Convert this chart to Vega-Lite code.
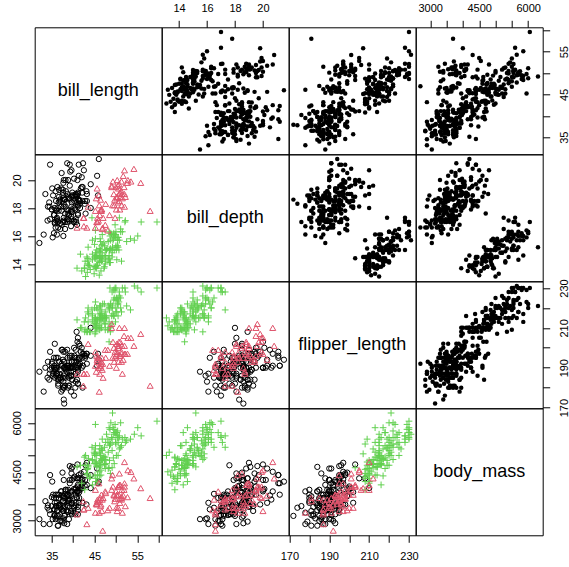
{
"$schema":"https://vega.github.io/schema/vega-lite/v6.json",
"padding":{"left":10.7,"top":1.3,"right":0,"bottom":0},
"background":"white",
"datasets":{"p":[
{"sp":"A","bl":39.1,"bd":18.7,"fl":181,"bm":3750},{"sp":"A","bl":39.5,"bd":17.4,"fl":186,"bm":3800},{"sp":"A","bl":40.3,"bd":18.0,"fl":195,"bm":3250},{"sp":"A","bl":36.7,"bd":19.3,"fl":193,"bm":3450},{"sp":"A","bl":39.3,"bd":20.6,"fl":190,"bm":3650},{"sp":"A","bl":38.9,"bd":17.8,"fl":181,"bm":3625},{"sp":"A","bl":39.2,"bd":19.6,"fl":195,"bm":4675},{"sp":"A","bl":34.1,"bd":18.1,"fl":193,"bm":3475},{"sp":"A","bl":42.0,"bd":20.2,"fl":190,"bm":4250},{"sp":"A","bl":37.8,"bd":17.1,"fl":186,"bm":3300},
{"sp":"A","bl":37.8,"bd":17.3,"fl":180,"bm":3700},{"sp":"A","bl":41.1,"bd":17.6,"fl":182,"bm":3200},{"sp":"A","bl":38.6,"bd":21.2,"fl":191,"bm":3800},{"sp":"A","bl":34.6,"bd":21.1,"fl":198,"bm":4400},{"sp":"A","bl":36.6,"bd":17.8,"fl":185,"bm":3700},{"sp":"A","bl":38.7,"bd":19.0,"fl":195,"bm":3450},{"sp":"A","bl":42.5,"bd":20.7,"fl":197,"bm":4500},{"sp":"A","bl":34.4,"bd":18.4,"fl":184,"bm":3325},{"sp":"A","bl":46.0,"bd":21.5,"fl":194,"bm":4200},{"sp":"A","bl":37.8,"bd":18.3,"fl":174,"bm":3400},
{"sp":"A","bl":37.7,"bd":18.7,"fl":180,"bm":3600},{"sp":"A","bl":35.9,"bd":19.2,"fl":189,"bm":3800},{"sp":"A","bl":38.2,"bd":18.1,"fl":185,"bm":3950},{"sp":"A","bl":38.8,"bd":17.2,"fl":180,"bm":3800},{"sp":"A","bl":35.3,"bd":18.9,"fl":187,"bm":3800},{"sp":"A","bl":40.6,"bd":18.6,"fl":183,"bm":3550},{"sp":"A","bl":40.5,"bd":17.9,"fl":187,"bm":3200},{"sp":"A","bl":37.9,"bd":18.6,"fl":172,"bm":3150},{"sp":"A","bl":40.5,"bd":18.9,"fl":180,"bm":3950},{"sp":"A","bl":39.5,"bd":16.7,"fl":178,"bm":3250},
{"sp":"A","bl":37.2,"bd":18.1,"fl":178,"bm":3900},{"sp":"A","bl":39.5,"bd":17.8,"fl":188,"bm":3300},{"sp":"A","bl":40.9,"bd":18.9,"fl":184,"bm":3900},{"sp":"A","bl":36.4,"bd":17.0,"fl":195,"bm":3325},{"sp":"A","bl":39.2,"bd":21.1,"fl":196,"bm":4150},{"sp":"A","bl":38.8,"bd":20.0,"fl":190,"bm":3950},{"sp":"A","bl":42.2,"bd":18.5,"fl":180,"bm":3550},{"sp":"A","bl":37.6,"bd":19.3,"fl":181,"bm":3300},{"sp":"A","bl":39.8,"bd":19.1,"fl":184,"bm":4650},{"sp":"A","bl":36.5,"bd":18.0,"fl":182,"bm":3150},
{"sp":"A","bl":40.8,"bd":18.4,"fl":195,"bm":3900},{"sp":"A","bl":36.0,"bd":18.5,"fl":186,"bm":3100},{"sp":"A","bl":44.1,"bd":19.7,"fl":196,"bm":4400},{"sp":"A","bl":37.0,"bd":16.9,"fl":185,"bm":3000},{"sp":"A","bl":39.6,"bd":18.8,"fl":190,"bm":4600},{"sp":"A","bl":41.1,"bd":19.0,"fl":182,"bm":3425},{"sp":"A","bl":37.5,"bd":18.9,"fl":179,"bm":2975},{"sp":"A","bl":36.0,"bd":17.9,"fl":190,"bm":3450},{"sp":"A","bl":42.3,"bd":21.2,"fl":191,"bm":4150},{"sp":"A","bl":39.6,"bd":17.7,"fl":186,"bm":3500},
{"sp":"A","bl":40.1,"bd":18.9,"fl":188,"bm":4300},{"sp":"A","bl":35.0,"bd":17.9,"fl":190,"bm":3450},{"sp":"A","bl":42.0,"bd":19.5,"fl":200,"bm":4050},{"sp":"A","bl":34.5,"bd":18.1,"fl":187,"bm":2900},{"sp":"A","bl":41.4,"bd":18.6,"fl":191,"bm":3700},{"sp":"A","bl":39.0,"bd":17.5,"fl":186,"bm":3550},{"sp":"A","bl":40.6,"bd":18.8,"fl":193,"bm":3800},{"sp":"A","bl":36.5,"bd":16.6,"fl":181,"bm":2850},{"sp":"A","bl":37.6,"bd":19.1,"fl":194,"bm":3750},{"sp":"A","bl":35.7,"bd":16.9,"fl":185,"bm":3150},
{"sp":"A","bl":41.3,"bd":21.1,"fl":195,"bm":4400},{"sp":"A","bl":37.6,"bd":17.0,"fl":185,"bm":3600},{"sp":"A","bl":41.1,"bd":18.2,"fl":192,"bm":4050},{"sp":"A","bl":36.4,"bd":17.1,"fl":184,"bm":2850},{"sp":"A","bl":41.6,"bd":18.0,"fl":192,"bm":3950},{"sp":"A","bl":35.5,"bd":16.2,"fl":195,"bm":3350},{"sp":"A","bl":41.1,"bd":19.1,"fl":188,"bm":4100},{"sp":"A","bl":35.9,"bd":16.6,"fl":190,"bm":3050},{"sp":"A","bl":41.8,"bd":19.4,"fl":198,"bm":4450},{"sp":"A","bl":33.5,"bd":19.0,"fl":190,"bm":3600},
{"sp":"A","bl":39.7,"bd":18.4,"fl":190,"bm":3900},{"sp":"A","bl":39.6,"bd":17.2,"fl":196,"bm":3550},{"sp":"A","bl":45.8,"bd":18.9,"fl":197,"bm":4150},{"sp":"A","bl":35.5,"bd":17.5,"fl":190,"bm":3700},{"sp":"A","bl":42.8,"bd":18.5,"fl":195,"bm":4250},{"sp":"A","bl":40.9,"bd":16.8,"fl":191,"bm":3700},{"sp":"A","bl":37.2,"bd":19.4,"fl":184,"bm":3900},{"sp":"A","bl":36.2,"bd":16.1,"fl":187,"bm":3550},{"sp":"A","bl":42.1,"bd":19.1,"fl":195,"bm":4000},{"sp":"A","bl":34.6,"bd":17.2,"fl":189,"bm":3200},
{"sp":"A","bl":42.9,"bd":17.6,"fl":196,"bm":4700},{"sp":"A","bl":36.7,"bd":18.8,"fl":187,"bm":3800},{"sp":"A","bl":35.1,"bd":19.4,"fl":193,"bm":4200},{"sp":"A","bl":37.3,"bd":17.8,"fl":191,"bm":3350},{"sp":"A","bl":41.3,"bd":20.3,"fl":194,"bm":3550},{"sp":"A","bl":36.3,"bd":19.5,"fl":190,"bm":3800},{"sp":"A","bl":36.9,"bd":18.6,"fl":189,"bm":3500},{"sp":"A","bl":38.3,"bd":19.2,"fl":189,"bm":3950},{"sp":"A","bl":38.9,"bd":18.8,"fl":190,"bm":3600},{"sp":"A","bl":35.7,"bd":18.0,"fl":202,"bm":3550},
{"sp":"A","bl":41.1,"bd":18.1,"fl":205,"bm":4300},{"sp":"A","bl":34.0,"bd":17.1,"fl":185,"bm":3400},{"sp":"A","bl":39.6,"bd":18.1,"fl":186,"bm":4450},{"sp":"A","bl":36.2,"bd":17.3,"fl":187,"bm":3300},{"sp":"A","bl":40.8,"bd":18.9,"fl":208,"bm":4300},{"sp":"A","bl":38.1,"bd":18.6,"fl":190,"bm":3700},{"sp":"A","bl":40.3,"bd":18.5,"fl":196,"bm":4350},{"sp":"A","bl":33.1,"bd":16.1,"fl":178,"bm":2900},{"sp":"A","bl":43.2,"bd":18.5,"fl":192,"bm":4100},{"sp":"A","bl":35.0,"bd":17.9,"fl":192,"bm":3725},
{"sp":"A","bl":41.0,"bd":20.0,"fl":203,"bm":4725},{"sp":"A","bl":37.7,"bd":16.0,"fl":183,"bm":3075},{"sp":"A","bl":37.8,"bd":20.0,"fl":190,"bm":4250},{"sp":"A","bl":37.9,"bd":18.6,"fl":193,"bm":2925},{"sp":"A","bl":39.7,"bd":18.9,"fl":184,"bm":3550},{"sp":"A","bl":38.6,"bd":17.2,"fl":199,"bm":3750},{"sp":"A","bl":38.2,"bd":20.0,"fl":190,"bm":3900},{"sp":"A","bl":38.1,"bd":17.0,"fl":181,"bm":3175},{"sp":"A","bl":43.2,"bd":19.0,"fl":197,"bm":4775},{"sp":"A","bl":38.1,"bd":16.5,"fl":198,"bm":3825},
{"sp":"A","bl":45.6,"bd":20.3,"fl":191,"bm":4600},{"sp":"A","bl":39.7,"bd":17.7,"fl":193,"bm":3200},{"sp":"A","bl":42.2,"bd":19.5,"fl":197,"bm":4275},{"sp":"A","bl":39.6,"bd":20.7,"fl":191,"bm":3900},{"sp":"A","bl":42.7,"bd":18.3,"fl":196,"bm":4075},{"sp":"A","bl":38.6,"bd":17.0,"fl":188,"bm":2900},{"sp":"A","bl":37.3,"bd":20.5,"fl":199,"bm":3775},{"sp":"A","bl":35.7,"bd":17.0,"fl":189,"bm":3350},{"sp":"A","bl":41.1,"bd":18.6,"fl":189,"bm":3325},{"sp":"A","bl":36.2,"bd":17.2,"fl":187,"bm":3150},
{"sp":"A","bl":37.7,"bd":19.8,"fl":198,"bm":3500},{"sp":"A","bl":40.2,"bd":17.0,"fl":176,"bm":3450},{"sp":"A","bl":41.4,"bd":18.5,"fl":202,"bm":3875},{"sp":"A","bl":35.2,"bd":15.9,"fl":186,"bm":3050},{"sp":"A","bl":40.6,"bd":19.0,"fl":199,"bm":4000},{"sp":"A","bl":38.8,"bd":17.6,"fl":191,"bm":3275},{"sp":"A","bl":41.5,"bd":18.3,"fl":195,"bm":4300},{"sp":"A","bl":39.0,"bd":17.1,"fl":191,"bm":3050},{"sp":"A","bl":44.1,"bd":18.0,"fl":210,"bm":4000},{"sp":"A","bl":38.5,"bd":17.9,"fl":190,"bm":3325},
{"sp":"A","bl":43.1,"bd":19.2,"fl":197,"bm":3500},{"sp":"A","bl":36.8,"bd":18.5,"fl":193,"bm":3500},{"sp":"A","bl":37.5,"bd":18.5,"fl":199,"bm":4475},{"sp":"A","bl":38.1,"bd":17.6,"fl":187,"bm":3425},{"sp":"A","bl":41.1,"bd":17.5,"fl":190,"bm":3900},{"sp":"A","bl":35.6,"bd":17.5,"fl":191,"bm":3175},{"sp":"A","bl":40.2,"bd":20.1,"fl":200,"bm":3975},{"sp":"A","bl":37.0,"bd":16.5,"fl":185,"bm":3400},{"sp":"A","bl":39.7,"bd":17.9,"fl":193,"bm":4250},{"sp":"A","bl":40.2,"bd":17.1,"fl":193,"bm":3400},
{"sp":"A","bl":40.6,"bd":17.2,"fl":187,"bm":3475},{"sp":"A","bl":32.1,"bd":15.5,"fl":188,"bm":3050},{"sp":"A","bl":40.7,"bd":17.0,"fl":190,"bm":3725},{"sp":"A","bl":37.3,"bd":16.8,"fl":192,"bm":3000},{"sp":"A","bl":39.0,"bd":18.7,"fl":185,"bm":3650},{"sp":"A","bl":39.2,"bd":18.6,"fl":190,"bm":4250},{"sp":"A","bl":36.6,"bd":18.4,"fl":184,"bm":3475},{"sp":"A","bl":36.0,"bd":17.8,"fl":195,"bm":3450},{"sp":"A","bl":37.8,"bd":18.1,"fl":193,"bm":3750},{"sp":"A","bl":36.0,"bd":17.1,"fl":187,"bm":3700},
{"sp":"A","bl":41.5,"bd":18.5,"fl":201,"bm":4000},
{"sp":"G","bl":46.1,"bd":13.2,"fl":211,"bm":4500},{"sp":"G","bl":50.0,"bd":16.3,"fl":230,"bm":5700},{"sp":"G","bl":48.7,"bd":14.1,"fl":210,"bm":4450},{"sp":"G","bl":50.0,"bd":15.2,"fl":218,"bm":5700},{"sp":"G","bl":47.6,"bd":14.5,"fl":215,"bm":5400},{"sp":"G","bl":46.5,"bd":13.5,"fl":210,"bm":4550},{"sp":"G","bl":45.4,"bd":14.6,"fl":211,"bm":4800},{"sp":"G","bl":46.7,"bd":15.3,"fl":219,"bm":5200},{"sp":"G","bl":43.3,"bd":13.4,"fl":209,"bm":4400},{"sp":"G","bl":46.8,"bd":15.4,"fl":215,"bm":5150},
{"sp":"G","bl":40.9,"bd":13.7,"fl":214,"bm":4650},{"sp":"G","bl":49.0,"bd":16.1,"fl":216,"bm":5550},{"sp":"G","bl":45.5,"bd":13.7,"fl":214,"bm":4650},{"sp":"G","bl":48.4,"bd":14.6,"fl":213,"bm":5850},{"sp":"G","bl":45.8,"bd":14.6,"fl":210,"bm":4200},{"sp":"G","bl":49.3,"bd":15.7,"fl":217,"bm":5850},{"sp":"G","bl":42.0,"bd":13.5,"fl":210,"bm":4150},{"sp":"G","bl":49.2,"bd":15.2,"fl":221,"bm":6300},{"sp":"G","bl":46.2,"bd":14.5,"fl":209,"bm":4800},{"sp":"G","bl":48.7,"bd":15.1,"fl":222,"bm":5350},
{"sp":"G","bl":50.2,"bd":14.3,"fl":218,"bm":5700},{"sp":"G","bl":45.1,"bd":14.5,"fl":215,"bm":5000},{"sp":"G","bl":46.5,"bd":14.5,"fl":213,"bm":4400},{"sp":"G","bl":46.3,"bd":15.8,"fl":215,"bm":5050},{"sp":"G","bl":42.9,"bd":13.1,"fl":215,"bm":5000},{"sp":"G","bl":46.1,"bd":15.1,"fl":215,"bm":5100},{"sp":"G","bl":44.5,"bd":14.3,"fl":216,"bm":4100},{"sp":"G","bl":47.8,"bd":15.0,"fl":215,"bm":5650},{"sp":"G","bl":48.2,"bd":14.3,"fl":210,"bm":4600},{"sp":"G","bl":50.0,"bd":15.3,"fl":220,"bm":5550},
{"sp":"G","bl":47.3,"bd":15.3,"fl":222,"bm":5250},{"sp":"G","bl":42.8,"bd":14.2,"fl":209,"bm":4700},{"sp":"G","bl":45.1,"bd":14.5,"fl":207,"bm":5050},{"sp":"G","bl":59.6,"bd":17.0,"fl":230,"bm":6050},{"sp":"G","bl":49.1,"bd":14.8,"fl":220,"bm":5150},{"sp":"G","bl":48.4,"bd":16.3,"fl":220,"bm":5400},{"sp":"G","bl":42.6,"bd":13.7,"fl":213,"bm":4950},{"sp":"G","bl":44.4,"bd":17.3,"fl":219,"bm":5250},{"sp":"G","bl":44.0,"bd":13.6,"fl":208,"bm":4350},{"sp":"G","bl":48.7,"bd":15.7,"fl":208,"bm":5350},
{"sp":"G","bl":42.7,"bd":13.7,"fl":208,"bm":3950},{"sp":"G","bl":49.6,"bd":16.0,"fl":225,"bm":5700},{"sp":"G","bl":45.3,"bd":13.7,"fl":210,"bm":4300},{"sp":"G","bl":49.6,"bd":15.0,"fl":216,"bm":4750},{"sp":"G","bl":50.5,"bd":15.9,"fl":222,"bm":5550},{"sp":"G","bl":43.6,"bd":13.9,"fl":217,"bm":4900},{"sp":"G","bl":45.5,"bd":13.9,"fl":210,"bm":4200},{"sp":"G","bl":50.5,"bd":15.9,"fl":225,"bm":5400},{"sp":"G","bl":44.9,"bd":13.3,"fl":213,"bm":5100},{"sp":"G","bl":45.2,"bd":15.8,"fl":215,"bm":5300},
{"sp":"G","bl":46.6,"bd":14.2,"fl":210,"bm":4850},{"sp":"G","bl":48.5,"bd":14.1,"fl":220,"bm":5300},{"sp":"G","bl":45.1,"bd":14.4,"fl":210,"bm":4400},{"sp":"G","bl":50.1,"bd":15.0,"fl":225,"bm":5000},{"sp":"G","bl":46.5,"bd":14.4,"fl":217,"bm":4900},{"sp":"G","bl":45.0,"bd":15.4,"fl":220,"bm":5050},{"sp":"G","bl":43.8,"bd":13.9,"fl":208,"bm":4300},{"sp":"G","bl":45.5,"bd":15.0,"fl":220,"bm":5000},{"sp":"G","bl":43.2,"bd":14.5,"fl":208,"bm":4450},{"sp":"G","bl":50.4,"bd":15.3,"fl":224,"bm":5550},
{"sp":"G","bl":45.3,"bd":13.8,"fl":208,"bm":4200},{"sp":"G","bl":46.2,"bd":14.9,"fl":221,"bm":5300},{"sp":"G","bl":45.7,"bd":13.9,"fl":214,"bm":4400},{"sp":"G","bl":54.3,"bd":15.7,"fl":231,"bm":5650},{"sp":"G","bl":45.8,"bd":14.2,"fl":219,"bm":4700},{"sp":"G","bl":49.8,"bd":16.8,"fl":230,"bm":5700},{"sp":"G","bl":46.2,"bd":14.4,"fl":214,"bm":4650},{"sp":"G","bl":49.5,"bd":16.2,"fl":229,"bm":5800},{"sp":"G","bl":43.5,"bd":14.2,"fl":220,"bm":4700},{"sp":"G","bl":50.7,"bd":15.0,"fl":223,"bm":5550},
{"sp":"G","bl":47.7,"bd":15.0,"fl":216,"bm":4750},{"sp":"G","bl":46.4,"bd":15.6,"fl":221,"bm":5000},{"sp":"G","bl":48.2,"bd":15.6,"fl":221,"bm":5100},{"sp":"G","bl":46.5,"bd":14.8,"fl":217,"bm":5200},{"sp":"G","bl":46.4,"bd":15.0,"fl":216,"bm":4700},{"sp":"G","bl":48.6,"bd":16.0,"fl":230,"bm":5800},{"sp":"G","bl":47.5,"bd":14.2,"fl":209,"bm":4600},{"sp":"G","bl":51.1,"bd":16.3,"fl":220,"bm":6000},{"sp":"G","bl":45.2,"bd":13.8,"fl":215,"bm":4750},{"sp":"G","bl":45.2,"bd":16.4,"fl":223,"bm":5950},
{"sp":"G","bl":49.1,"bd":14.5,"fl":212,"bm":4625},{"sp":"G","bl":52.5,"bd":15.6,"fl":221,"bm":5450},{"sp":"G","bl":47.4,"bd":14.6,"fl":212,"bm":4725},{"sp":"G","bl":50.0,"bd":15.9,"fl":224,"bm":5350},{"sp":"G","bl":44.9,"bd":13.8,"fl":212,"bm":4750},{"sp":"G","bl":50.8,"bd":17.3,"fl":228,"bm":5600},{"sp":"G","bl":43.4,"bd":14.4,"fl":218,"bm":4600},{"sp":"G","bl":51.3,"bd":14.2,"fl":218,"bm":5300},{"sp":"G","bl":47.5,"bd":14.0,"fl":212,"bm":4875},{"sp":"G","bl":52.1,"bd":17.0,"fl":230,"bm":5550},
{"sp":"G","bl":47.5,"bd":15.0,"fl":218,"bm":4950},{"sp":"G","bl":52.2,"bd":17.1,"fl":228,"bm":5400},{"sp":"G","bl":45.5,"bd":14.5,"fl":212,"bm":4750},{"sp":"G","bl":49.5,"bd":16.1,"fl":224,"bm":5650},{"sp":"G","bl":44.5,"bd":14.7,"fl":214,"bm":4850},{"sp":"G","bl":50.8,"bd":15.7,"fl":226,"bm":5200},{"sp":"G","bl":49.4,"bd":15.8,"fl":216,"bm":4925},{"sp":"G","bl":46.9,"bd":14.6,"fl":222,"bm":4875},{"sp":"G","bl":48.4,"bd":14.4,"fl":203,"bm":4625},{"sp":"G","bl":51.1,"bd":16.5,"fl":225,"bm":5250},
{"sp":"G","bl":48.5,"bd":15.0,"fl":219,"bm":4850},{"sp":"G","bl":55.9,"bd":17.0,"fl":228,"bm":5600},{"sp":"G","bl":47.2,"bd":15.5,"fl":215,"bm":4975},{"sp":"G","bl":49.1,"bd":15.0,"fl":228,"bm":5500},{"sp":"G","bl":47.3,"bd":13.8,"fl":216,"bm":4725},{"sp":"G","bl":46.8,"bd":16.1,"fl":215,"bm":5500},{"sp":"G","bl":41.7,"bd":14.7,"fl":210,"bm":4700},{"sp":"G","bl":53.4,"bd":15.8,"fl":219,"bm":5500},{"sp":"G","bl":43.3,"bd":14.0,"fl":208,"bm":4575},{"sp":"G","bl":48.1,"bd":15.1,"fl":209,"bm":5500},
{"sp":"G","bl":50.5,"bd":15.2,"fl":216,"bm":5000},{"sp":"G","bl":49.8,"bd":15.9,"fl":229,"bm":5950},{"sp":"G","bl":43.5,"bd":15.2,"fl":213,"bm":4650},{"sp":"G","bl":51.5,"bd":16.3,"fl":230,"bm":5500},{"sp":"G","bl":46.2,"bd":14.1,"fl":217,"bm":4375},{"sp":"G","bl":55.1,"bd":16.0,"fl":230,"bm":5850},{"sp":"G","bl":44.5,"bd":15.7,"fl":217,"bm":4875},{"sp":"G","bl":48.8,"bd":16.2,"fl":222,"bm":6000},{"sp":"G","bl":47.2,"bd":13.7,"fl":214,"bm":4925},{"sp":"G","bl":46.8,"bd":14.3,"fl":215,"bm":4850},
{"sp":"G","bl":50.4,"bd":15.7,"fl":222,"bm":5750},{"sp":"G","bl":45.2,"bd":14.8,"fl":212,"bm":5200},{"sp":"G","bl":49.9,"bd":16.1,"fl":213,"bm":5400},
{"sp":"C","bl":46.5,"bd":17.9,"fl":192,"bm":3500},{"sp":"C","bl":50.0,"bd":19.5,"fl":196,"bm":3900},{"sp":"C","bl":51.3,"bd":19.2,"fl":193,"bm":3650},{"sp":"C","bl":45.4,"bd":18.7,"fl":188,"bm":3525},{"sp":"C","bl":52.7,"bd":19.8,"fl":197,"bm":3725},{"sp":"C","bl":45.2,"bd":17.8,"fl":198,"bm":3950},{"sp":"C","bl":46.1,"bd":18.2,"fl":178,"bm":3250},{"sp":"C","bl":51.3,"bd":18.2,"fl":197,"bm":3750},{"sp":"C","bl":46.0,"bd":18.9,"fl":195,"bm":4150},{"sp":"C","bl":51.3,"bd":19.9,"fl":198,"bm":3700},
{"sp":"C","bl":46.6,"bd":17.8,"fl":193,"bm":3800},{"sp":"C","bl":51.7,"bd":20.3,"fl":194,"bm":3775},{"sp":"C","bl":47.0,"bd":17.3,"fl":185,"bm":3700},{"sp":"C","bl":52.0,"bd":18.1,"fl":201,"bm":4050},{"sp":"C","bl":45.9,"bd":17.1,"fl":190,"bm":3575},{"sp":"C","bl":50.5,"bd":19.6,"fl":201,"bm":4050},{"sp":"C","bl":50.3,"bd":20.0,"fl":197,"bm":3300},{"sp":"C","bl":58.0,"bd":17.8,"fl":181,"bm":3700},{"sp":"C","bl":46.4,"bd":18.6,"fl":190,"bm":3450},{"sp":"C","bl":49.2,"bd":18.2,"fl":195,"bm":4400},
{"sp":"C","bl":42.4,"bd":17.3,"fl":181,"bm":3600},{"sp":"C","bl":48.5,"bd":17.5,"fl":191,"bm":3400},{"sp":"C","bl":43.2,"bd":16.6,"fl":187,"bm":2900},{"sp":"C","bl":50.6,"bd":19.4,"fl":193,"bm":3800},{"sp":"C","bl":46.7,"bd":17.9,"fl":195,"bm":3300},{"sp":"C","bl":52.0,"bd":19.0,"fl":197,"bm":4150},{"sp":"C","bl":50.5,"bd":18.4,"fl":200,"bm":3400},{"sp":"C","bl":49.5,"bd":19.0,"fl":200,"bm":3800},{"sp":"C","bl":46.4,"bd":17.8,"fl":191,"bm":3700},{"sp":"C","bl":52.8,"bd":20.0,"fl":205,"bm":4550},
{"sp":"C","bl":40.9,"bd":16.6,"fl":187,"bm":3200},{"sp":"C","bl":54.2,"bd":20.8,"fl":201,"bm":4300},{"sp":"C","bl":42.5,"bd":16.7,"fl":187,"bm":3350},{"sp":"C","bl":51.0,"bd":18.8,"fl":203,"bm":4100},{"sp":"C","bl":49.7,"bd":18.6,"fl":195,"bm":3600},{"sp":"C","bl":47.5,"bd":16.8,"fl":199,"bm":3900},{"sp":"C","bl":47.6,"bd":18.3,"fl":195,"bm":3850},{"sp":"C","bl":52.0,"bd":20.7,"fl":210,"bm":4800},{"sp":"C","bl":46.9,"bd":16.6,"fl":192,"bm":2700},{"sp":"C","bl":53.5,"bd":19.9,"fl":205,"bm":4500},
{"sp":"C","bl":49.0,"bd":19.5,"fl":210,"bm":3950},{"sp":"C","bl":46.2,"bd":17.5,"fl":187,"bm":3650},{"sp":"C","bl":50.9,"bd":19.1,"fl":196,"bm":3550},{"sp":"C","bl":45.5,"bd":17.0,"fl":196,"bm":3500},{"sp":"C","bl":50.9,"bd":17.9,"fl":196,"bm":3675},{"sp":"C","bl":50.8,"bd":18.5,"fl":201,"bm":4450},{"sp":"C","bl":50.1,"bd":17.9,"fl":190,"bm":3400},{"sp":"C","bl":49.0,"bd":19.6,"fl":212,"bm":4300},{"sp":"C","bl":51.5,"bd":18.7,"fl":187,"bm":3250},{"sp":"C","bl":49.8,"bd":17.3,"fl":198,"bm":3675},
{"sp":"C","bl":48.1,"bd":16.4,"fl":199,"bm":3325},{"sp":"C","bl":51.4,"bd":19.0,"fl":201,"bm":3950},{"sp":"C","bl":45.7,"bd":17.3,"fl":193,"bm":3600},{"sp":"C","bl":50.7,"bd":19.7,"fl":203,"bm":4050},{"sp":"C","bl":42.5,"bd":17.3,"fl":187,"bm":3350},{"sp":"C","bl":52.2,"bd":18.8,"fl":197,"bm":3450},{"sp":"C","bl":45.2,"bd":16.6,"fl":191,"bm":3250},{"sp":"C","bl":49.3,"bd":19.9,"fl":203,"bm":4050},{"sp":"C","bl":50.2,"bd":18.8,"fl":202,"bm":3800},{"sp":"C","bl":45.6,"bd":19.4,"fl":194,"bm":3525},
{"sp":"C","bl":51.9,"bd":19.5,"fl":206,"bm":3950},{"sp":"C","bl":46.8,"bd":16.5,"fl":189,"bm":3650},{"sp":"C","bl":45.7,"bd":17.0,"fl":195,"bm":3650},{"sp":"C","bl":55.8,"bd":19.8,"fl":207,"bm":4000},{"sp":"C","bl":43.5,"bd":18.1,"fl":202,"bm":3400},{"sp":"C","bl":49.6,"bd":18.2,"fl":193,"bm":3775},{"sp":"C","bl":50.8,"bd":19.0,"fl":210,"bm":4100},{"sp":"C","bl":50.2,"bd":18.7,"fl":198,"bm":3775}
]},
"columns":4,
"spacing":0,
"bounds":"flush",
"concat":[
{"width":127,"height":127,"data":{"values":[{"label":"bill_length","pos":0.5}]},"mark":{"type":"text","fontSize":18,"baseline":"alphabetic","dy":5,"color":"black"},"encoding":{"x":{"field":"pos","type":"quantitative","scale":{"domain":[0,1]},"axis":null},"y":{"field":"pos","type":"quantitative","scale":{"domain":[0,1]},"axis":null},"text":{"field":"label"}}},
{"width":127,"height":127,"data":{"name":"p"},"mark":{"type":"point","filled":true,"size":20,"color":"black","opacity":1},
 "encoding":{"x":{"field":"bd","type":"quantitative","scale":{"domain":[12.76,21.84],"zero":false,"nice":false},"axis":{"orient":"top","values":[14,16,18,20],"format":"d","title":null}},
 "y":{"field":"bl","type":"quantitative","scale":{"domain":[31.0,60.7],"zero":false,"nice":false},"axis":null}}},
{"width":127,"height":127,"data":{"name":"p"},"mark":{"type":"point","filled":true,"size":20,"color":"black","opacity":1},
 "encoding":{"x":{"field":"fl","type":"quantitative","scale":{"domain":[169.64,233.36],"zero":false,"nice":false},"axis":null},
 "y":{"field":"bl","type":"quantitative","scale":{"domain":[31.0,60.7],"zero":false,"nice":false},"axis":null}}},
{"width":127,"height":127,"data":{"name":"p"},"mark":{"type":"point","filled":true,"size":20,"color":"black","opacity":1},
 "encoding":{"x":{"field":"bm","type":"quantitative","scale":{"domain":[2556,6444],"zero":false,"nice":false},"axis":{"orient":"top","values":[3000,3500,4000,4500,5000,5500,6000],"format":"d","labelExpr":"datum.value % 1500 == 0 ? datum.label : ''","title":null}},
 "y":{"field":"bl","type":"quantitative","scale":{"domain":[31.0,60.7],"zero":false,"nice":false},"axis":{"orient":"right","values":[35,40,45,50,55,60],"format":"d","labelExpr":"datum.value % 10 == 5 ? datum.label : ''","title":null}}}},

{"width":127,"height":127,"data":{"name":"p"},"mark":{"type":"point","filled":false,"strokeWidth":1,"opacity":1},
 "encoding":{"x":{"field":"bl","type":"quantitative","scale":{"domain":[31.0,60.7],"zero":false,"nice":false},"axis":null},
 "y":{"field":"bd","type":"quantitative","scale":{"domain":[12.76,21.84],"zero":false,"nice":false},"axis":{"orient":"left","values":[14,16,18,20],"format":"d","title":null}},
 "color":{"field":"sp","type":"nominal","scale":{"domain":["A","C","G"],"range":["#000000","#DF536B","#61D04F"]},"legend":null},
 "shape":{"field":"sp","type":"nominal","scale":{"domain":["A","C","G"],"range":["circle","triangle-up","M-1,0H1M0,-1V1"]},"legend":null},
 "size":{"field":"sp","type":"ordinal","scale":{"domain":["A","C","G"],"range":[28,45,49]},"legend":null}}},
{"width":127,"height":127,"data":{"values":[{"label":"bill_depth","pos":0.5}]},"mark":{"type":"text","fontSize":18,"baseline":"alphabetic","dy":5,"color":"black"},"encoding":{"x":{"field":"pos","type":"quantitative","scale":{"domain":[0,1]},"axis":null},"y":{"field":"pos","type":"quantitative","scale":{"domain":[0,1]},"axis":null},"text":{"field":"label"}}},
{"width":127,"height":127,"data":{"name":"p"},"mark":{"type":"point","filled":true,"size":20,"color":"black","opacity":1},
 "encoding":{"x":{"field":"fl","type":"quantitative","scale":{"domain":[169.64,233.36],"zero":false,"nice":false},"axis":null},
 "y":{"field":"bd","type":"quantitative","scale":{"domain":[12.76,21.84],"zero":false,"nice":false},"axis":null}}},
{"width":127,"height":127,"data":{"name":"p"},"mark":{"type":"point","filled":true,"size":20,"color":"black","opacity":1},
 "encoding":{"x":{"field":"bm","type":"quantitative","scale":{"domain":[2556,6444],"zero":false,"nice":false},"axis":null},
 "y":{"field":"bd","type":"quantitative","scale":{"domain":[12.76,21.84],"zero":false,"nice":false},"axis":null}}},

{"width":127,"height":127,"data":{"name":"p"},"mark":{"type":"point","filled":false,"strokeWidth":1,"opacity":1},
 "encoding":{"x":{"field":"bl","type":"quantitative","scale":{"domain":[31.0,60.7],"zero":false,"nice":false},"axis":null},
 "y":{"field":"fl","type":"quantitative","scale":{"domain":[169.64,233.36],"zero":false,"nice":false},"axis":null},
 "color":{"field":"sp","type":"nominal","scale":{"domain":["A","C","G"],"range":["#000000","#DF536B","#61D04F"]},"legend":null},
 "shape":{"field":"sp","type":"nominal","scale":{"domain":["A","C","G"],"range":["circle","triangle-up","M-1,0H1M0,-1V1"]},"legend":null},
 "size":{"field":"sp","type":"ordinal","scale":{"domain":["A","C","G"],"range":[28,45,49]},"legend":null}}},
{"width":127,"height":127,"data":{"name":"p"},"mark":{"type":"point","filled":false,"strokeWidth":1,"opacity":1},
 "encoding":{"x":{"field":"bd","type":"quantitative","scale":{"domain":[12.76,21.84],"zero":false,"nice":false},"axis":null},
 "y":{"field":"fl","type":"quantitative","scale":{"domain":[169.64,233.36],"zero":false,"nice":false},"axis":null},
 "color":{"field":"sp","type":"nominal","scale":{"domain":["A","C","G"],"range":["#000000","#DF536B","#61D04F"]},"legend":null},
 "shape":{"field":"sp","type":"nominal","scale":{"domain":["A","C","G"],"range":["circle","triangle-up","M-1,0H1M0,-1V1"]},"legend":null},
 "size":{"field":"sp","type":"ordinal","scale":{"domain":["A","C","G"],"range":[28,45,49]},"legend":null}}},
{"width":127,"height":127,"data":{"values":[{"label":"flipper_length","pos":0.5}]},"mark":{"type":"text","fontSize":18,"baseline":"alphabetic","dy":5,"color":"black"},"encoding":{"x":{"field":"pos","type":"quantitative","scale":{"domain":[0,1]},"axis":null},"y":{"field":"pos","type":"quantitative","scale":{"domain":[0,1]},"axis":null},"text":{"field":"label"}}},
{"width":127,"height":127,"data":{"name":"p"},"mark":{"type":"point","filled":true,"size":20,"color":"black","opacity":1},
 "encoding":{"x":{"field":"bm","type":"quantitative","scale":{"domain":[2556,6444],"zero":false,"nice":false},"axis":null},
 "y":{"field":"fl","type":"quantitative","scale":{"domain":[169.64,233.36],"zero":false,"nice":false},"axis":{"orient":"right","values":[170,180,190,200,210,220,230],"format":"d","labelExpr":"datum.value % 20 == 10 ? datum.label : ''","title":null}}}},

{"width":127,"height":127,"data":{"name":"p"},"mark":{"type":"point","filled":false,"strokeWidth":1,"opacity":1},
 "encoding":{"x":{"field":"bl","type":"quantitative","scale":{"domain":[31.0,60.7],"zero":false,"nice":false},"axis":{"orient":"bottom","values":[35,40,45,50,55,60],"format":"d","labelExpr":"datum.value % 10 == 5 ? datum.label : ''","title":null}},
 "y":{"field":"bm","type":"quantitative","scale":{"domain":[2556,6444],"zero":false,"nice":false},"axis":{"orient":"left","values":[3000,3500,4000,4500,5000,5500,6000],"format":"d","labelExpr":"datum.value % 1500 == 0 ? datum.label : ''","title":null}},
 "color":{"field":"sp","type":"nominal","scale":{"domain":["A","C","G"],"range":["#000000","#DF536B","#61D04F"]},"legend":null},
 "shape":{"field":"sp","type":"nominal","scale":{"domain":["A","C","G"],"range":["circle","triangle-up","M-1,0H1M0,-1V1"]},"legend":null},
 "size":{"field":"sp","type":"ordinal","scale":{"domain":["A","C","G"],"range":[28,45,49]},"legend":null}}},
{"width":127,"height":127,"data":{"name":"p"},"mark":{"type":"point","filled":false,"strokeWidth":1,"opacity":1},
 "encoding":{"x":{"field":"bd","type":"quantitative","scale":{"domain":[12.76,21.84],"zero":false,"nice":false},"axis":null},
 "y":{"field":"bm","type":"quantitative","scale":{"domain":[2556,6444],"zero":false,"nice":false},"axis":null},
 "color":{"field":"sp","type":"nominal","scale":{"domain":["A","C","G"],"range":["#000000","#DF536B","#61D04F"]},"legend":null},
 "shape":{"field":"sp","type":"nominal","scale":{"domain":["A","C","G"],"range":["circle","triangle-up","M-1,0H1M0,-1V1"]},"legend":null},
 "size":{"field":"sp","type":"ordinal","scale":{"domain":["A","C","G"],"range":[28,45,49]},"legend":null}}},
{"width":127,"height":127,"data":{"name":"p"},"mark":{"type":"point","filled":false,"strokeWidth":1,"opacity":1},
 "encoding":{"x":{"field":"fl","type":"quantitative","scale":{"domain":[169.64,233.36],"zero":false,"nice":false},"axis":{"orient":"bottom","values":[170,180,190,200,210,220,230],"format":"d","labelExpr":"datum.value % 20 == 10 ? datum.label : ''","title":null}},
 "y":{"field":"bm","type":"quantitative","scale":{"domain":[2556,6444],"zero":false,"nice":false},"axis":null},
 "color":{"field":"sp","type":"nominal","scale":{"domain":["A","C","G"],"range":["#000000","#DF536B","#61D04F"]},"legend":null},
 "shape":{"field":"sp","type":"nominal","scale":{"domain":["A","C","G"],"range":["circle","triangle-up","M-1,0H1M0,-1V1"]},"legend":null},
 "size":{"field":"sp","type":"ordinal","scale":{"domain":["A","C","G"],"range":[28,45,49]},"legend":null}}},
{"width":127,"height":127,"data":{"values":[{"label":"body_mass","pos":0.5}]},"mark":{"type":"text","fontSize":18,"baseline":"alphabetic","dy":5,"color":"black"},"encoding":{"x":{"field":"pos","type":"quantitative","scale":{"domain":[0,1]},"axis":null},"y":{"field":"pos","type":"quantitative","scale":{"domain":[0,1]},"axis":null},"text":{"field":"label"}}}
],
"config":{
 "font":"Liberation Sans",
 "view":{"stroke":"black","strokeWidth":1},
 "axis":{"domain":false,"grid":false,"ticks":true,"tickColor":"black","tickWidth":1,"tickSize":7,"labelColor":"black","labelFontSize":11,"labelFont":"Liberation Sans","labelOverlap":false,"labelFlush":false,"labelBound":false},
 "axisTop":{"labelAngle":0,"labelAlign":"center","labelBaseline":"alphabetic","labelPadding":9},
 "axisBottom":{"labelAngle":0,"labelAlign":"center","labelBaseline":"alphabetic","labelPadding":17.4},
 "axisLeft":{"labelAngle":270,"labelAlign":"center","labelBaseline":"alphabetic","labelPadding":7},
 "axisRight":{"labelAngle":270,"labelAlign":"center","labelBaseline":"alphabetic","labelPadding":18}
}
}
